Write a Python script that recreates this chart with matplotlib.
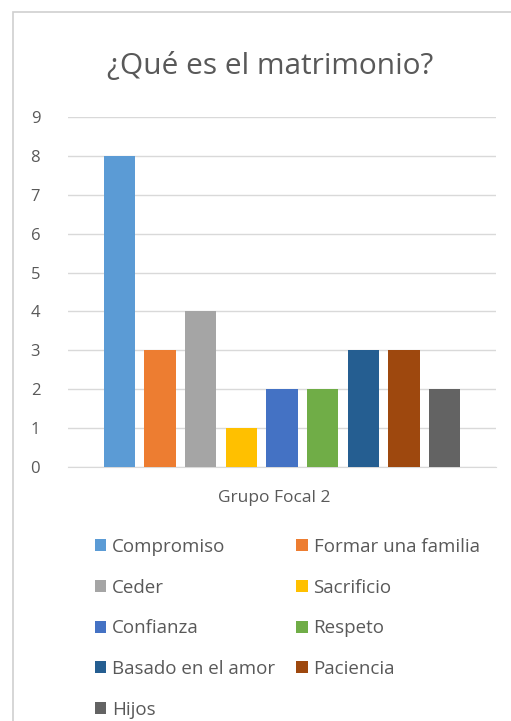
import matplotlib
matplotlib.use("Agg")
import matplotlib.pyplot as plt
from matplotlib.patches import Rectangle

categories = ["Compromiso", "Formar una familia", "Ceder", "Sacrificio", "Confianza",
              "Respeto", "Basado en el amor", "Paciencia", "Hijos"]
values = [8, 3, 4, 1, 2, 2, 3, 3, 2]
colors = ["#5B9BD5", "#ED7D31", "#A5A5A5", "#FFC000", "#4472C4",
          "#70AD47", "#255E91", "#9E480E", "#636363"]
group_label = "Grupo Focal 2"
title = "¿Qué es el matrimonio?"
yticks = list(range(0, 10))

plt.rcParams['font.family'] = ['Open Sans', 'DejaVu Sans']
txt = "#595959"

fig = plt.figure(figsize=(5.11, 7.21), dpi=100)
W, H = 511, 721
fig.patches.append(Rectangle((12.5 / W, -0.1), 1.2, 1 - 11.5 / H + 0.1, transform=fig.transFigure,
                             fill=False, edgecolor="#cfcfcf", linewidth=1.2))

ax = fig.add_axes([68 / W, 1 - 467 / H, (496 - 68) / W, (467 - 117) / H])
handles = []
for i, (c, v, col) in enumerate(zip(categories, values, colors)):
    b = ax.bar(i, v, width=0.77, color=col, label=c, zorder=3)
    handles.append(b)

ax.set_xlim(-1.265, len(values) - 1 + 1.265)
ax.set_ylim(0, 9)
ax.set_yticks(yticks)
ax.yaxis.grid(True, color="#d9d9d9", linewidth=1, zorder=0)
ax.set_xticks([])
for s in ["top", "right", "left"]:
    ax.spines[s].set_visible(False)
ax.spines["bottom"].set_color("#d9d9d9")
ax.tick_params(axis="y", length=0, labelsize=12, labelcolor=txt, pad=20)
ax.set_xlabel(group_label, fontsize=12.5, color=txt, labelpad=17)
ax.xaxis.set_label_coords(0.482, -0.065)

fig.text(0.528, 1 - 66 / H, title, ha="center", va="center", fontsize=21.5, color=txt)

order = [0, 2, 4, 6, 8, 1, 3, 5, 7]
leg = fig.legend([handles[i] for i in order], [categories[i] for i in order],
                 ncol=2, loc="upper left", bbox_to_anchor=(78 / W, 1 - 521 / H),
                 frameon=False, fontsize=13.5, labelcolor=txt,
                 handlelength=0.6, handleheight=0.6, handletextpad=0.32,
                 labelspacing=1.21, columnspacing=1.12)

fig.savefig("out.png", dpi=100)
